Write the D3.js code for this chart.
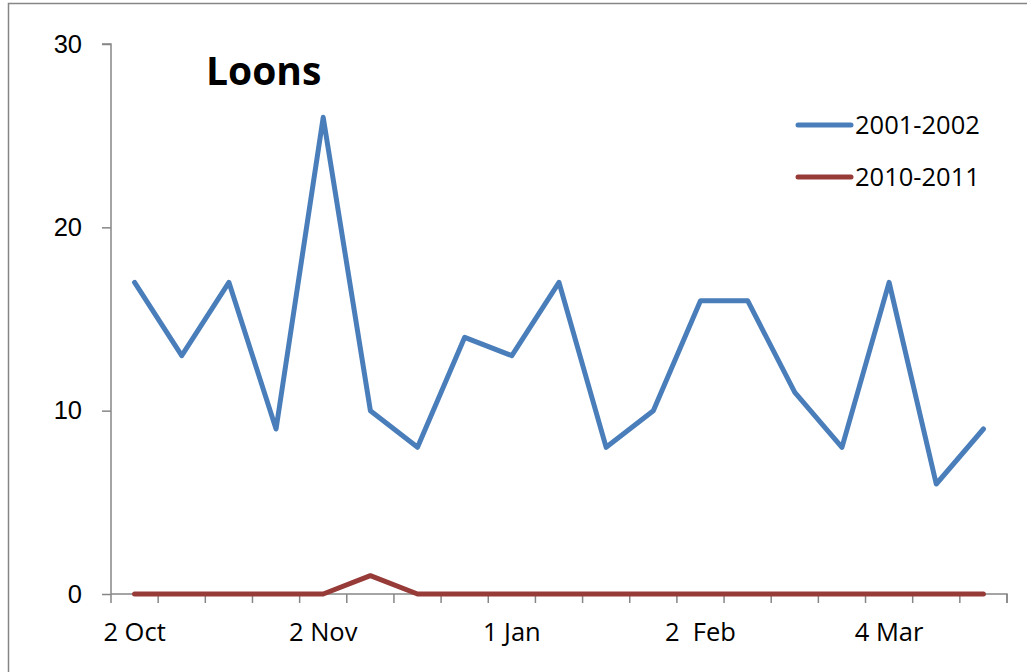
<!DOCTYPE html>
<html>
<head>
<meta charset="utf-8">
<script src="https://cdn.jsdelivr.net/npm/d3@7"></script>
<style>
  body { margin: 0; background: #fff; }
  svg { display: block; font-family: "Open Sans", sans-serif; }
</style>
</head>
<body>
<div id="chart"></div>
<script>
// survey dates (19 counts); only every 4th one is labelled on the axis
const dates = d3.range(19);
const tickLabels = ["2 Oct", "2 Nov", "1 Jan", "2  Feb", "4 Mar"];
const labelAt = [0, 4, 8, 12, 16];

const series2001 = [17, 13, 17, 9, 26, 10, 8, 14, 13, 17, 8, 10, 16, 16, 11, 8, 17, 6, 9];
const series2010 = [0, 0, 0, 0, 0, 1, 0, 0, 0, 0, 0, 0, 0, 0, 0, 0, 0, 0, 0];
const seriesNames = ["2001-2002", "2010-2011"];
const colors = ["#4a7ebb", "#973b39"];

const yTicks = [0, 10, 20, 30];

const width = 1027, height = 672;
const plotLeft = 111, plotRight = 1007, plotTop = 44, plotBottom = 594;
const axisColor = "#868686";
const fontSize = 25.5;

const svg = d3.select("#chart").append("svg")
  .attr("width", width)
  .attr("height", height);

// outer frame of the chart area
svg.append("rect")
  .attr("x", 8.5).attr("y", 3.5)
  .attr("width", 1030).attr("height", 700)
  .attr("fill", "none")
  .attr("stroke", axisColor)
  .attr("stroke-width", 1.5);

let x = d3.scaleBand()
  .domain(dates)
  .range([plotLeft, plotRight]);

let y = d3.scaleLinear()
  .domain([0, 30])
  .range([plotBottom, plotTop]);

// y axis
let yAxis = d3.axisLeft(y)
  .tickValues(yTicks)
  .tickSize(9)
  .tickPadding(20)
  .tickFormat(d3.format("d"));

let gy = svg.append("g")
  .attr("transform", "translate(" + plotLeft + ",0)")
  .call(yAxis);
gy.select(".domain").attr("stroke", axisColor).attr("stroke-width", 1.5)
  .attr("d", "M-9," + plotTop + "H0V" + plotBottom);
gy.selectAll(".tick line").attr("stroke", axisColor).attr("stroke-width", 1.5);
gy.selectAll(".tick text")
  .attr("font-size", fontSize)
  .attr("fill", "#000");

// x axis: ticks on category boundaries, labels centred on every 4th category
let boundaries = d3.range(dates.length + 1).map(i => plotLeft + i * x.bandwidth());
let gx = svg.append("g");
gx.append("path")
  .attr("d", "M" + plotLeft + "," + plotBottom + "H" + plotRight + "V" + (plotBottom + 9))
  .attr("fill", "none")
  .attr("stroke", axisColor)
  .attr("stroke-width", 1.5);
gx.selectAll("line.tick")
  .data(boundaries)
  .join("line")
  .attr("class", "tick")
  .attr("x1", d => d).attr("x2", d => d)
  .attr("y1", plotBottom).attr("y2", plotBottom + 9)
  .attr("stroke", axisColor)
  .attr("stroke-width", 1.5);
gx.selectAll("text")
  .data(tickLabels)
  .join("text")
  .attr("x", (d, i) => x(labelAt[i]) + x.bandwidth() / 2)
  .attr("y", 641)
  .attr("text-anchor", "middle")
  .attr("font-size", fontSize)
  .style("white-space", "pre")
  .text(d => d);

// lines
let line = d3.line()
  .x((d, i) => x(dates[i]) + x.bandwidth() / 2)
  .y(d => y(d));

[series2001, series2010].forEach((s, i) => {
  svg.append("path")
    .datum(s)
    .attr("fill", "none")
    .attr("stroke", colors[i])
    .attr("stroke-width", 5)
    .attr("stroke-linejoin", "round")
    .attr("stroke-linecap", "round")
    .attr("d", line);
});

// title
svg.append("text")
  .attr("x", 206)
  .attr("y", 85)
  .attr("font-size", 39)
  .attr("font-weight", "bold")
  .text("Loons");

// legend
let legend = svg.append("g");
seriesNames.forEach((name, i) => {
  let ly = 125 + i * 52;
  legend.append("line")
    .attr("x1", 798).attr("x2", 851)
    .attr("y1", ly).attr("y2", ly)
    .attr("stroke", colors[i])
    .attr("stroke-width", 5)
    .attr("stroke-linecap", "round");
  legend.append("text")
    .attr("x", 855)
    .attr("y", ly)
    .attr("dy", "0.35em")
    .attr("font-size", fontSize)
    .text(name);
});
</script>
</body>
</html>
